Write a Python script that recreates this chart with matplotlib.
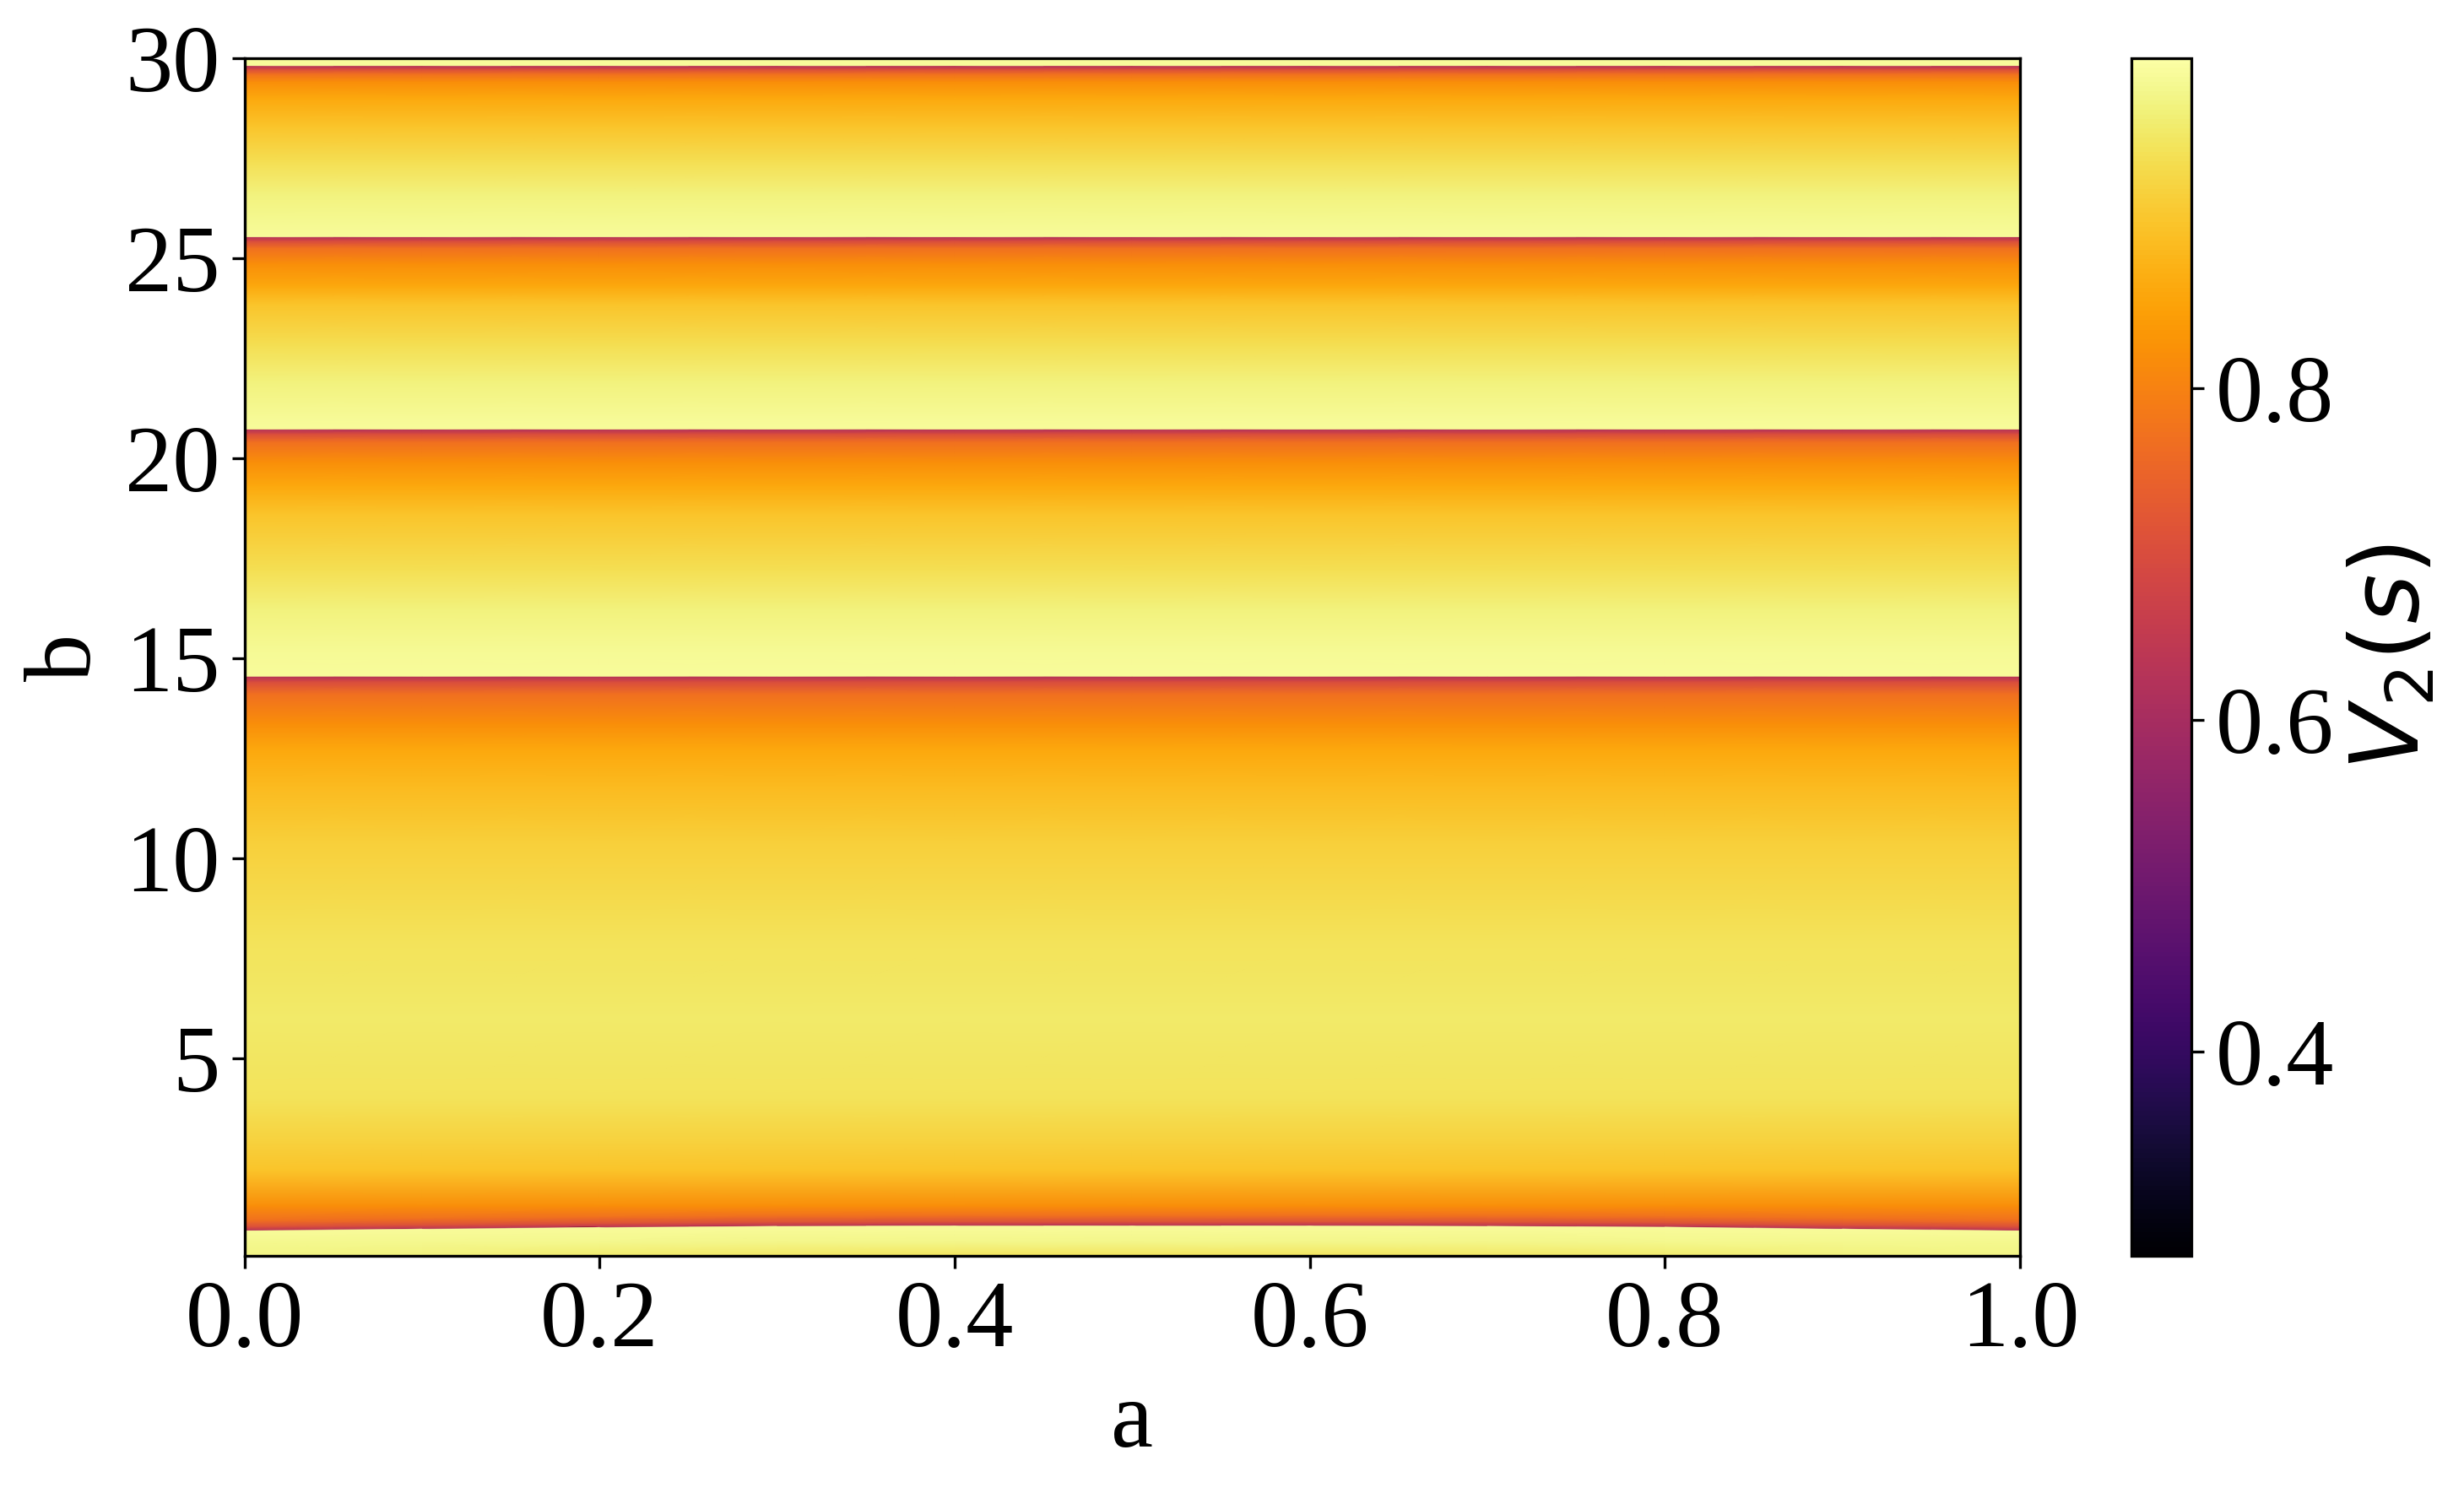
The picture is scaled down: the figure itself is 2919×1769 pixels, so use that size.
import numpy as np
import matplotlib
matplotlib.use("Agg")
import matplotlib.pyplot as plt
from matplotlib.colors import Normalize

plt.rcParams['font.family'] = ['Liberation Serif', 'DejaVu Sans']
plt.rcParams['mathtext.fontset'] = 'dejavusans'
plt.rcParams['font.size'] = 27

# columns along a
a_values = [0.0, 0.1, 0.2, 0.3, 0.4, 0.5, 0.6, 0.7, 0.8, 0.9, 1.0]

# V2(s) read down one column, same for every a (above the lowest band edge)
b_levels = [30.00, 29.81, 29.79, 29.72, 29.60, 29.40, 29.00, 28.30, 27.40, 26.60, 26.00, 25.53,
            25.51, 25.42, 25.25, 24.85, 24.30, 23.85, 22.80, 21.90, 21.00, 20.72,
            20.70, 20.60, 20.40, 19.90, 19.30, 18.60, 17.20, 16.20, 15.10, 14.54,
            14.52, 14.40, 14.10, 13.35, 12.70, 11.80, 10.40, 7.90, 6.00, 4.00,
            2.90, 2.20, 1.30]
v_levels = [0.990, 0.990, 0.63, 0.70, 0.77, 0.82, 0.86, 0.90, 0.938, 0.968, 0.982, 0.990,
            0.63, 0.70, 0.77, 0.82, 0.86, 0.90, 0.938, 0.968, 0.985, 0.990,
            0.63, 0.70, 0.77, 0.82, 0.86, 0.90, 0.938, 0.970, 0.987, 0.990,
            0.63, 0.70, 0.77, 0.82, 0.86, 0.885, 0.915, 0.945, 0.955, 0.945,
            0.920, 0.900, 0.82]

# lowest band edge bends a little with a
edge_b = [0.68, 0.72, 0.76, 0.79, 0.80, 0.80, 0.80, 0.79, 0.77, 0.72, 0.68]
edge_offsets = [0.25, 0.08, 0.01, -0.01]
edge_values = [0.77, 0.70, 0.63, 0.990]

# strip under the edge
floor_b = [0.40, 0.05]
floor_mid = [0.982, 0.982, 0.980, 0.978, 0.978, 0.978, 0.978, 0.978, 0.980, 0.982, 0.982]
floor_low = [0.975, 0.968, 0.958, 0.952, 0.948, 0.948, 0.948, 0.952, 0.958, 0.968, 0.975]

vmin, vmax = 0.277, 0.999

n = len(a_values)
Y = [[b] * n for b in b_levels]
C = [[v] * n for v in v_levels]
for off, v in zip(edge_offsets, edge_values):
    Y.append([e + off for e in edge_b])
    C.append([v] * n)
Y.append([floor_b[0]] * n)
C.append(floor_mid)
Y.append([floor_b[1]] * n)
C.append(floor_low)

Y = np.array(Y)
C = np.array(C)
X = np.tile(np.array(a_values), (len(Y), 1))

fig = plt.figure(figsize=(2919 / 300, 1769 / 300), dpi=300)
ax = fig.add_axes([0.0993, 0.1588, 0.7205, 0.8022])
cax = fig.add_axes([0.865, 0.1588, 0.0243, 0.8022])

mesh = ax.pcolormesh(X, Y, C, shading='gouraud', cmap='inferno',
                     norm=Normalize(vmin=vmin, vmax=vmax))
ax.set_xlim(0, 1)
ax.set_ylim(floor_b[1], 30)
ax.set_xticks([0.0, 0.2, 0.4, 0.6, 0.8, 1.0])
ax.set_yticks([5, 10, 15, 20, 25, 30])
ax.set_xlabel('a')
ax.set_ylabel('b')

cbar = fig.colorbar(mesh, cax=cax)
cbar.set_ticks([0.4, 0.6, 0.8])
cbar.set_label('$V_2(s)$')

fig.savefig('out.png', dpi=300)
plt.close()
